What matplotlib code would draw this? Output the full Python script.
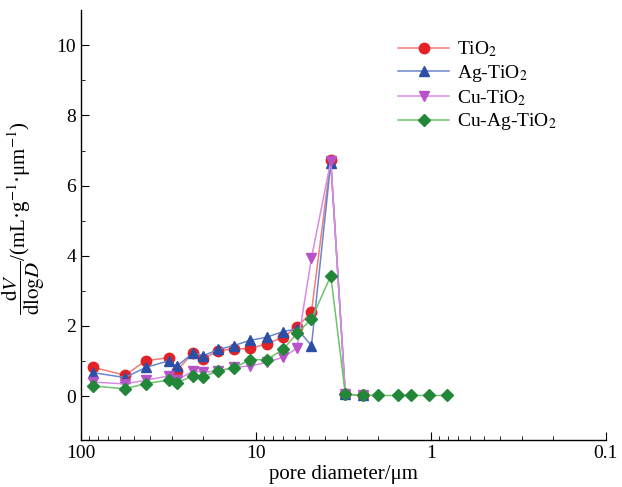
import numpy as np
import matplotlib
matplotlib.use("Agg")
import matplotlib.pyplot as plt
from matplotlib.ticker import LogLocator, NullFormatter

plt.rcParams['font.family'] = ['Liberation Serif', 'DejaVu Serif']
plt.rcParams['mathtext.fontset'] = 'stix'

# pore diameter (um)
d_common = [85.1, 56.0, 42.5, 31.3, 28.4, 22.8, 20.0, 16.4, 13.4, 10.8,
            8.69, 6.98, 5.81, 4.81, 3.73, 3.08, 2.44]
d_green = d_common + [2.00, 1.54, 1.29, 1.02, 0.81]

tio2 = [0.82, 0.60, 1.01, 1.10, 0.72, 1.23, 1.06, 1.30, 1.34, 1.36,
        1.49, 1.68, 1.97, 2.40, 6.74, 0.05, 0.03]
ag_tio2 = [0.67, 0.53, 0.82, 1.01, 0.85, 1.23, 1.15, 1.33, 1.44, 1.59,
           1.68, 1.84, 1.92, 1.44, 6.65, 0.05, 0.03]
cu_tio2 = [0.40, 0.35, 0.45, 0.58, 0.45, 0.72, 0.68, 0.72, 0.82, 0.86,
           0.96, 1.11, 1.37, 3.94, 6.70, 0.05, 0.03]
cu_ag_tio2 = [0.29, 0.21, 0.36, 0.46, 0.38, 0.58, 0.56, 0.72, 0.80, 1.04,
              1.04, 1.33, 1.80, 2.19, 3.43, 0.05, 0.03, 0.02, 0.02, 0.02, 0.02, 0.02]

labels = ['TiO$_2$', 'Ag-TiO$_2$', 'Cu-TiO$_2$', 'Cu-Ag-TiO$_2$']

fig = plt.figure(figsize=(6.22, 4.87), dpi=100)
ax = fig.add_axes([0.130, 0.0965, 0.844, 0.8825])

series = [
    (d_common, tio2, 'o', '#e32227', '#f27b7b'),
    (d_common, ag_tio2, '^', '#2b4ea6', '#6a86cc'),
    (d_common, cu_tio2, 'v', '#b852c8', '#d98ae3'),
    (d_green, cu_ag_tio2, 'D', '#23873a', '#6cc46c'),
]
handles = []
for (x, y, m, mc, lc), lab in zip(series, labels):
    ms = 6 if m == 'D' else 7.5
    h, = ax.plot(x, y, color=lc, lw=1.1, marker=m, ms=ms,
                 markerfacecolor=mc, markeredgecolor=mc, label=lab)
    handles.append(h)

ax.set_xscale('log')
ax.set_xlim(100, 0.1)
ax.set_ylim(-1.25, 11)
ax.set_xticks([100, 10, 1, 0.1])
ax.set_xticklabels(['100', '10', '1', '0.1'])
ax.xaxis.set_minor_locator(LogLocator(base=10, subs=np.arange(2, 10), numticks=20))
ax.xaxis.set_minor_formatter(NullFormatter())
ax.set_yticks([0, 2, 4, 6, 8, 10])
ax.set_yticks([1, 3, 5, 7, 9], minor=True)

for s in ['top', 'right']:
    ax.spines[s].set_visible(False)
for s in ['left', 'bottom']:
    ax.spines[s].set_linewidth(1.0)
ax.tick_params(which='both', direction='in', labelsize=14)
ax.tick_params(which='major', length=6)
ax.tick_params(which='minor', length=3)

ax.set_xlabel('pore diameter/μm', fontsize=15, labelpad=2)
ax.set_ylabel(r'$\dfrac{\mathrm{d}V}{\mathrm{dlog}D}$/(mL·g$^{-1}$·μm$^{-1}$)',
              fontsize=15)
ax.yaxis.set_label_coords(-0.064, 0.515)

fig.legend(handles=handles, loc='upper left', bbox_to_anchor=(0.628, 0.935),
           frameon=False, fontsize=14, handlelength=2.6, labelspacing=0.2,
           handletextpad=0.4, borderaxespad=0)

fig.savefig('out.png', dpi=100)
